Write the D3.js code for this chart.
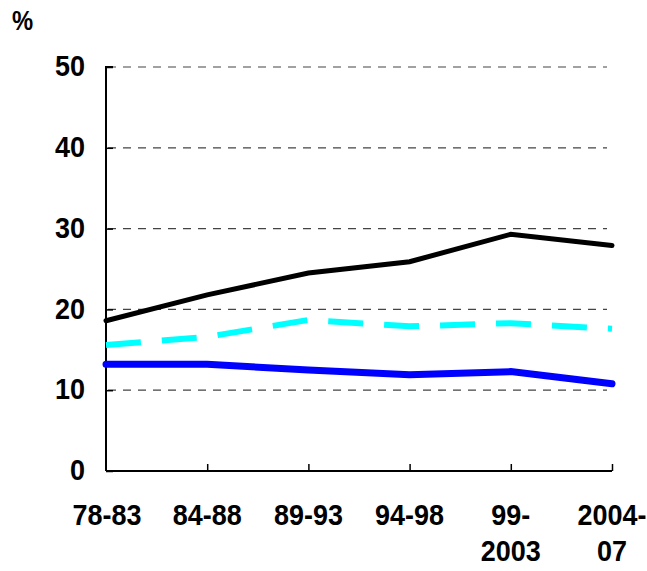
<!DOCTYPE html>
<html><head><meta charset="utf-8">
<script src="https://cdn.jsdelivr.net/npm/d3@7"></script>
<style>body{margin:0;background:#fff}svg{display:block}text{font-family:"Liberation Sans",Arial,sans-serif;font-weight:bold;fill:#000}</style>
</head><body>
<script>
const categories = [["78-83"],["84-88"],["89-93"],["94-98"],["99-","2003"],["2004-","07"]];
const blackSeries = [18.6, 21.8, 24.5, 25.9, 29.3, 27.9];
const cyanSeries  = [15.6, 16.6, 18.7, 17.9, 18.3, 17.6];
const blueSeries  = [13.2, 13.2, 12.5, 11.9, 12.3, 10.8];
const yTicks = [0, 10, 20, 30, 40, 50];

const W = 647, H = 571, FS = 29, SX = 0.93;
const svg = d3.select("body").append("svg").attr("width", W).attr("height", H);
const keys = categories.map((c,i)=>i);
const x = d3.scalePoint().domain(keys).range([106, 612]);
const y = d3.scaleLinear().domain([0, 50]).range([471, 67]);

// gridlines
svg.append("g").selectAll("line").data(yTicks.slice(1)).join("line")
  .attr("x1", 108).attr("x2", 607)
  .attr("y1", d=>y(d)).attr("y2", d=>y(d))
  .attr("stroke", "#444").attr("stroke-width", 1.2).attr("stroke-dasharray", "8,7");

// y axis
const yAxis = svg.append("g").attr("transform", "translate(106,0)")
  .call(d3.axisRight(y).tickValues(yTicks).tickSize(7).tickFormat(""));
yAxis.select(".domain").attr("stroke", "#000").attr("stroke-width", 2).attr("d", `M7,${y(50)}H0V${y(0)}`);
yAxis.selectAll(".tick line").attr("stroke", "#000").attr("stroke-width", 1.5);
svg.append("g").selectAll("g").data(yTicks).join("g")
  .attr("transform", d=>`translate(85,${y(d)}) scale(${SX},1)`)
  .append("text").attr("dy", "0.32em").attr("text-anchor", "end")
  .style("font-size", FS + "px").text(d=>d);

// x axis
const xAxis = svg.append("g").attr("transform", `translate(0,${y(0)})`)
  .call(d3.axisTop(x).tickSize(7).tickFormat(""));
xAxis.select(".domain").attr("stroke", "#000").attr("stroke-width", 2).attr("d", `M106,0H612`);
xAxis.selectAll(".tick line").attr("stroke", "#000").attr("stroke-width", 1.5);
xAxis.selectAll(".tick").filter(d=>d===0).remove();

const lbl = svg.append("g").selectAll("g").data(keys).join("g")
  .attr("transform", d=>`translate(${d===0 ? 107 : x(d)},0) scale(${SX},1)`)
  .append("text").attr("text-anchor", "middle").style("font-size", FS + "px");
lbl.selectAll("tspan").data(d=>categories[d]).join("tspan")
  .attr("x", 0).attr("y", (t,i)=>525 + i*36).text(t=>t);

svg.append("g").attr("transform", `translate(12,30) scale(0.85,1)`)
  .append("text").style("font-size", "28px").text("%");

const line = d3.line().x((d,i)=>x(i)).y(d=>y(d));
svg.append("path").datum(cyanSeries).attr("d", line).attr("fill", "none")
  .attr("stroke", "#00ffff").attr("stroke-width", 6).attr("stroke-dasharray", "35,21");
svg.append("path").datum(blueSeries).attr("d", line).attr("fill", "none")
  .attr("stroke", "#0000ff").attr("stroke-width", 7).attr("stroke-linecap", "round");
svg.append("path").datum(blackSeries).attr("d", line).attr("fill", "none")
  .attr("stroke", "#000").attr("stroke-width", 5).attr("stroke-linecap", "round");
</script>
</body></html>
